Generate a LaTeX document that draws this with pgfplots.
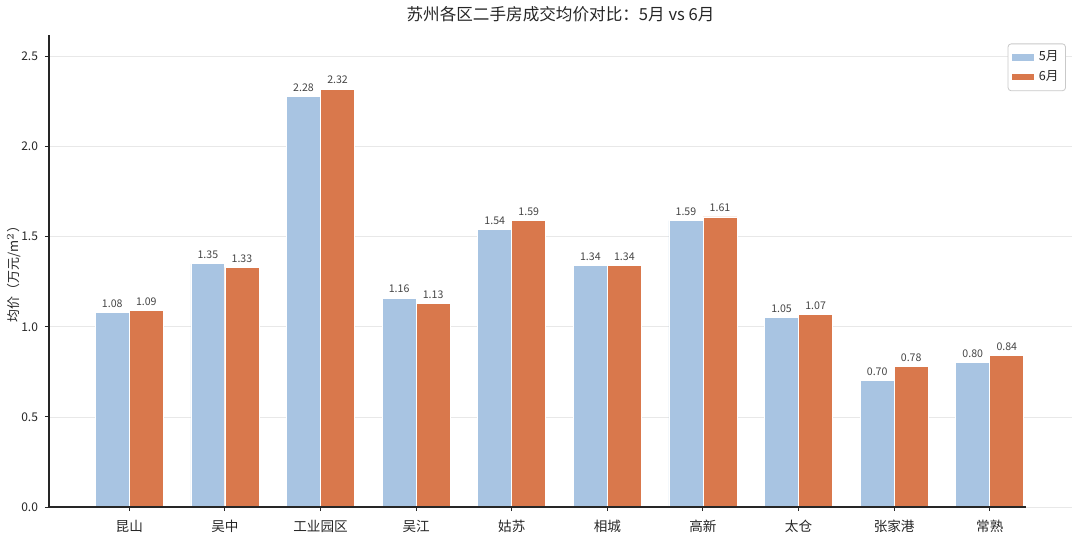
\documentclass[border=0pt]{standalone}
\usepackage{pgfplots}
\pgfplotsset{compat=1.18}
\usepackage{fontspec}
\setmainfont{Noto Sans CJK SC}
\definecolor{cblue}{HTML}{A8C4E2}
\definecolor{corange}{HTML}{D9784C}
\definecolor{gridc}{HTML}{E8E8E8}
\definecolor{txt}{HTML}{262626}
\definecolor{vtxt}{HTML}{444444}
\begin{document}
\begin{tikzpicture}
\path[use as bounding box] (-24.5pt,-14.5pt) rectangle (515.5pt,253.5pt);
\begin{axis}[
  at={(0pt,0pt)}, anchor=south west,
  scale only axis,
  width=511.5pt, height=236pt,
  xmin=-0.84, xmax=9.86,
  ymin=0, ymax=2.62,
  ybar,
  bar width=0.355,
  axis y line*=left,
  axis x line*=bottom,
  x axis line style={draw=none},
  y axis line style={line width=0.6pt, color=txt},
  xtick={0,...,9},
  xticklabels={昆山,吴中,工业园区,吴江,姑苏,相城,高新,太仓,张家港,常熟},
  ytick={0,0.5,...,2.5},
  yticklabel style={/pgf/number format/fixed,/pgf/number format/fixed zerofill,/pgf/number format/precision=1},
  /pgf/number format/assume math mode=true,
  tick label style={font=\fontsize{6}{7}\selectfont, color=txt},
  xticklabel style={font=\fontsize{6.8}{8}\selectfont, yshift=-1pt},
  tick align=outside,
  major tick length=2pt,
  tick style={color=txt, line width=0.5pt},
  ymajorgrids,
  grid style={gridc, line width=0.4pt},
  ylabel={均价（万元/m$^2$）},
  ylabel style={font=\fontsize{6.5}{8}\selectfont, color=txt, at={(axis description cs:-0.0342,0.5)}, anchor=center},
  title={苏州各区二手房成交均价对比：5月 vs 6月},
  every axis title shift=0pt,
  title style={font=\fontsize{8.3}{9}\selectfont, color=txt, at={(axis description cs:0.5,1)}, anchor=base, yshift=7pt},
  nodes near coords,
  nodes near coords style={font=\fontsize{5.3}{6}\selectfont, color=vtxt, /pgf/number format/fixed, /pgf/number format/fixed zerofill, /pgf/number format/precision=2, /pgf/number format/assume math mode=true, yshift=-1pt},
  legend style={at={(axis description cs:0.994,0.982)}, anchor=north east, font=\fontsize{6.3}{7}\selectfont, draw=gridc!70!gray, rounded corners=1.5pt, inner sep=1.5pt, row sep=-0.5pt, text=txt},
  legend image code/.code={\fill[#1, sharp corners] (0pt,-1.8pt) rectangle (11.5pt,1.8pt);},
  legend cell align=left,
  clip=false,
]
\addplot[fill=cblue, draw=white, line width=0.4pt, bar shift=-0.178] coordinates {
(0,1.08) (1,1.35) (2,2.28) (3,1.16) (4,1.54) (5,1.34) (6,1.59) (7,1.05) (8,0.70) (9,0.80)};
\addlegendentry{5月}
\addplot[fill=corange, draw=white, line width=0.4pt, bar shift=0.178] coordinates {
(0,1.09) (1,1.33) (2,2.32) (3,1.13) (4,1.59) (5,1.34) (6,1.61) (7,1.07) (8,0.78) (9,0.84)};
\addlegendentry{6月}
\draw[txt, line width=0.6pt] (axis cs:-0.84,0) -- (axis cs:9.38,0);
\end{axis}
\end{tikzpicture}
\end{document}
